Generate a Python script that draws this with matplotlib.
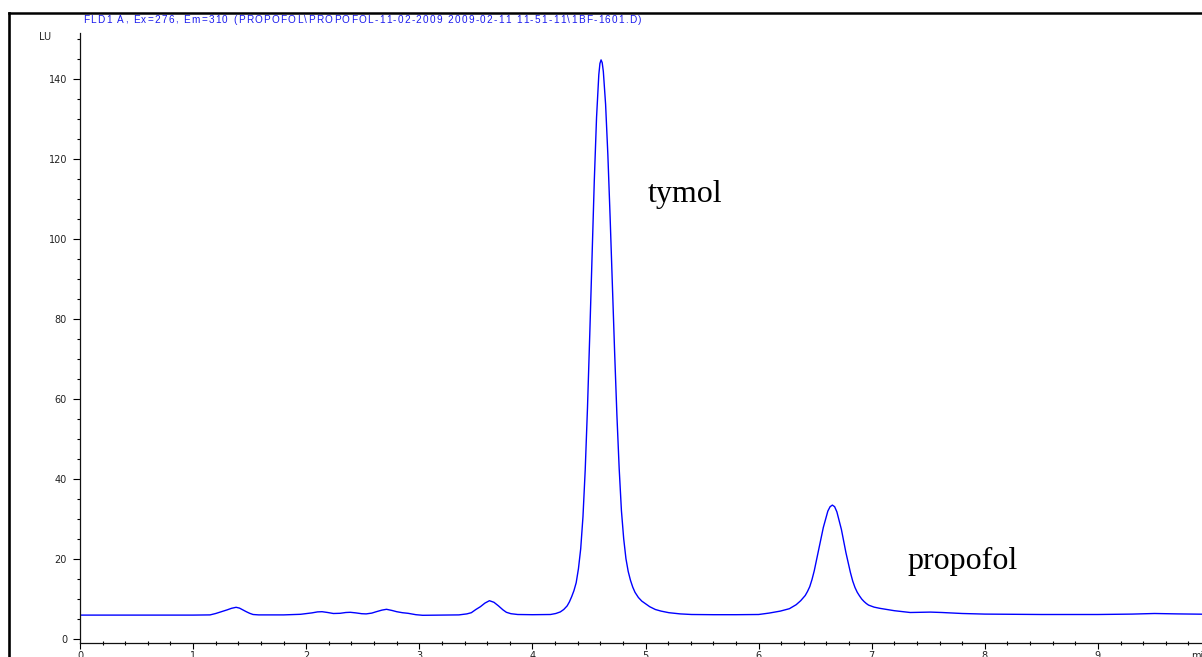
import numpy as np
import matplotlib
matplotlib.use('Agg')
import matplotlib.pyplot as plt
from matplotlib.lines import Line2D
from matplotlib.ticker import MultipleLocator
from matplotlib.font_manager import FontProperties, findfont, get_font

time_min = [
    0.00, 0.50, 1.00, 1.15, 1.20, 1.25, 1.30, 1.34, 1.38, 1.41, 1.44, 1.47,
    1.50, 1.53, 1.58, 1.80, 1.95, 2.05, 2.10, 2.14, 2.19, 2.24, 2.30, 2.35,
    2.39, 2.44, 2.49, 2.53, 2.58, 2.62, 2.67, 2.71, 2.76, 2.80, 2.85, 2.90,
    2.97, 3.03, 3.20, 3.35, 3.42, 3.46, 3.50, 3.54, 3.58, 3.62, 3.66, 3.70,
    3.74, 3.77, 3.81, 3.87, 4.00, 4.16,
    # tymol
    4.207, 4.247, 4.277, 4.307, 4.327, 4.347, 4.367, 4.387, 4.407, 4.427,
    4.447, 4.467, 4.487, 4.507, 4.527, 4.547, 4.567, 4.587, 4.597, 4.607,
    4.617, 4.627, 4.647, 4.667, 4.687, 4.707, 4.727, 4.747, 4.767, 4.787,
    4.807, 4.827, 4.847, 4.867, 4.887, 4.907, 4.937, 4.967, 4.997, 5.037,
    5.087, 5.137, 5.207, 5.307, 5.407, 5.60, 5.80, 6.00,
    # propofol
    6.092, 6.192, 6.272, 6.332, 6.372, 6.412, 6.432, 6.452, 6.472, 6.492,
    6.532, 6.572, 6.612, 6.632, 6.652, 6.672, 6.692, 6.732, 6.772, 6.812,
    6.832, 6.852, 6.872, 6.892, 6.912, 6.932, 6.952, 6.972, 7.02, 7.07,
    7.20, 7.34, 7.45, 7.52, 7.62, 7.80, 8.00,
    8.50, 9.00, 9.30, 9.50, 9.70, 10.00, 10.40,
]
signal_lu = [
    5.9, 5.9, 5.9, 5.95, 6.3, 6.75, 7.2, 7.6, 7.85, 7.65, 7.2, 6.75,
    6.35, 6.05, 5.95, 5.95, 6.1, 6.45, 6.7, 6.75, 6.55, 6.3, 6.35, 6.55,
    6.6, 6.45, 6.25, 6.2, 6.4, 6.75, 7.15, 7.35, 7.05, 6.75, 6.5, 6.35,
    6.0, 5.85, 5.9, 5.95, 6.2, 6.5, 7.3, 8.0, 8.9, 9.5, 9.1, 8.2,
    7.2, 6.6, 6.25, 6.05, 6.0, 6.05,
    6.3, 6.7, 7.3, 8.2, 9.2, 10.5, 12.0, 14.0, 17.5, 22.5,
    30.5, 42.3, 57.8, 76.0, 95.5, 114.4, 130.3, 141.0, 143.8, 144.7,
    144.0, 141.8, 133.6, 121.0, 105.4, 88.4, 71.5, 55.9, 42.6, 32.0,
    25.0, 20.0, 16.8, 14.6, 12.9, 11.6, 10.3, 9.4, 8.8, 8.0,
    7.3, 6.9, 6.5, 6.2, 6.05, 6.0, 6.0, 6.05,
    6.4, 6.9, 7.5, 8.5, 9.5, 10.8, 11.8, 13.0, 14.8, 17.0,
    22.4, 27.8, 31.9, 33.0, 33.4, 33.0, 31.7, 27.3, 21.5, 16.5,
    14.4, 12.8, 11.6, 10.7, 9.9, 9.3, 8.8, 8.4, 7.9, 7.6,
    7.0, 6.55, 6.6, 6.65, 6.55, 6.3, 6.15,
    6.05, 6.05, 6.15, 6.3, 6.2, 6.1, 6.1,
]

peak_names = ['tymol', 'propofol']
peak_label_pos = [(5.02, 109.2), (7.32, 17.4)]

title = 'FLD1 A, Ex=276, Em=310 (PROPOFOL\\PROPOFOL-11-02-2009 2009-02-11 11-51-11\\1BF-1601.D)'

W, H = 1202, 657
fig = plt.figure(figsize=(W / 100, H / 100), dpi=100)
ax = fig.add_axes([80 / W, 13.7 / H, 0.9786, 0.9294])

ax.plot(time_min, signal_lu, color='#0000ff', lw=1.0)

ax.set_xlim(0, 10.4)
ax.set_ylim(-1.15, 151.5)
ax.xaxis.set_major_locator(MultipleLocator(1))
ax.xaxis.set_minor_locator(MultipleLocator(0.2))
ax.yaxis.set_major_locator(MultipleLocator(20))
ax.yaxis.set_minor_locator(MultipleLocator(5))

for side in ['top', 'right']:
    ax.spines[side].set_visible(False)
for side in ['left', 'bottom']:
    ax.spines[side].set_linewidth(0.9)
    ax.spines[side].set_color('#111111')

ax.tick_params(axis='y', which='major', direction='out', length=4.8, width=0.8,
               pad=4.5, labelsize=7, labelcolor='#222222')
ax.tick_params(axis='y', which='minor', direction='out', length=2.2, width=0.8)
ax.tick_params(axis='x', which='major', direction='out', length=4.1, width=0.8,
               pad=1.2, labelsize=7, labelcolor='#222222')
ax.tick_params(axis='x', which='minor', direction='inout', length=3.5, width=0.8)

ax.annotate('min', xy=(9.82, 0), xycoords=('data', 'axes fraction'),
            xytext=(0, -5.3), textcoords='offset points',
            ha='left', va='top', fontsize=7, color='#222222')

for name, (px, py) in zip(peak_names, peak_label_pos):
    ax.text(px, py, name, family='Liberation Serif', fontsize=23,
            va='baseline', ha='left', color='black')

fig.text(39 / W, 1 - 37 / H, 'LU', fontsize=7, color='#222222',
         ha='left', va='center')


def spaced_text(x_px, y_px, s, tracking, family, size, color):
    # letter-spaced line of text: advance each glyph by its width + tracking
    font = get_font(findfont(FontProperties(family=family)))
    font.set_size(size, 100)
    x = x_px
    for ch in s:
        if ch != ' ':
            fig.text(x / W, 1 - y_px / H, ch, family=family, fontsize=size,
                     color=color, va='center', ha='left')
        x += font.load_char(ord(ch)).linearHoriAdvance / 65536 + tracking


spaced_text(83, 20, title, 1.33, 'Liberation Sans', 7.2, '#1a1aee')

# outer frame of the report page
fx, fy = 8.7 / W, 1 - 13.3 / H
fig.add_artist(Line2D([fx, fx], [0, fy], color='black', lw=1.9,
                      solid_capstyle='projecting'))
fig.add_artist(Line2D([fx, 1], [fy, fy], color='black', lw=1.8,
                      solid_capstyle='projecting'))

fig.savefig('out.png', dpi=100)
